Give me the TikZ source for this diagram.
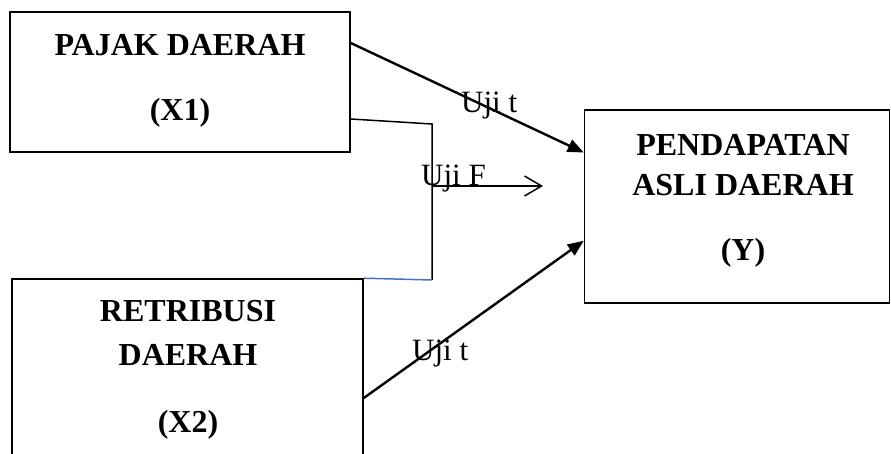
\documentclass[tikz,border=0pt]{standalone}
\usepackage{fontspec}
\setmainfont{Liberation Serif}
\usetikzlibrary{arrows.meta,calc}
\begin{document}
\begin{tikzpicture}[x=1pt,y=-1pt,
  box/.style={draw=black,line width=1.6pt,minimum width=#1,inner sep=0pt},
  head/.style={font=\fontsize{32}{38}\selectfont\bfseries,inner sep=0pt},
  lab/.style={font=\fontsize{31}{36}\selectfont,inner sep=0pt,anchor=base west},
  uji/.style={line width=2.4pt,-{Triangle[length=16pt,width=13pt]}},
  bracket/.style={line width=1.5pt}]
\useasboundingbox (0,0) rectangle (891,454);
\clip (0,0) rectangle (891,454);

% boxes
\node[box=340pt,minimum height=140pt] (x1) at (180,82) {};
\node[box=351pt,minimum height=200pt] (x2) at (187.5,379) {};
\node[box=305pt,minimum height=193pt] (y) at (737,206.5) {};

% box texts
\node[head] (t1a) at (180,45) {PAJAK DAERAH};
\node[head] (t1b) at (180,113) {(X1)};
\node[head] (t2a) at (188,311) {RETRIBUSI};
\node[head] (t2b) at (188,355) {DAERAH};
\node[head] (t2c) at (188,425) {(X2)};
\node[head] (tya) at (743,145) {PENDAPATAN};
\node[head] (tyb) at (743,185) {ASLI DAERAH};
\node[head] (tyc) at (743,253) {(Y)};

% joint bracket for the F test
\coordinate (bA) at (432,124);
\coordinate (bB) at (432,280);
\coordinate (fStart) at (432,186);
\coordinate (fEnd) at (543,186);
\draw[bracket] ([yshift=-37pt]x1.east) -- (bA) -- (bB);
\draw[line width=1.5pt,color={rgb,255:red,68;green,114;blue,196}] (bB) -- (x2.north east);
\draw[line width=1.5pt,-{Straight Barb[length=17pt,width=20pt,line width=1.5pt]}] (fStart) -- (fEnd);

% t tests
\draw[uji] ([yshift=39pt]x1.east) -- ([yshift=54pt]y.west);
\draw[uji] ([yshift=-19pt]x2.east) -- ([yshift=63pt]y.south west);

% labels
\node[lab] (l1) at (461,113) {Uji t};
\node[lab] (lf) at (421,186) {Uji F};
\node[lab] (l2) at (412,360) {Uji t};
\end{tikzpicture}
\end{document}
